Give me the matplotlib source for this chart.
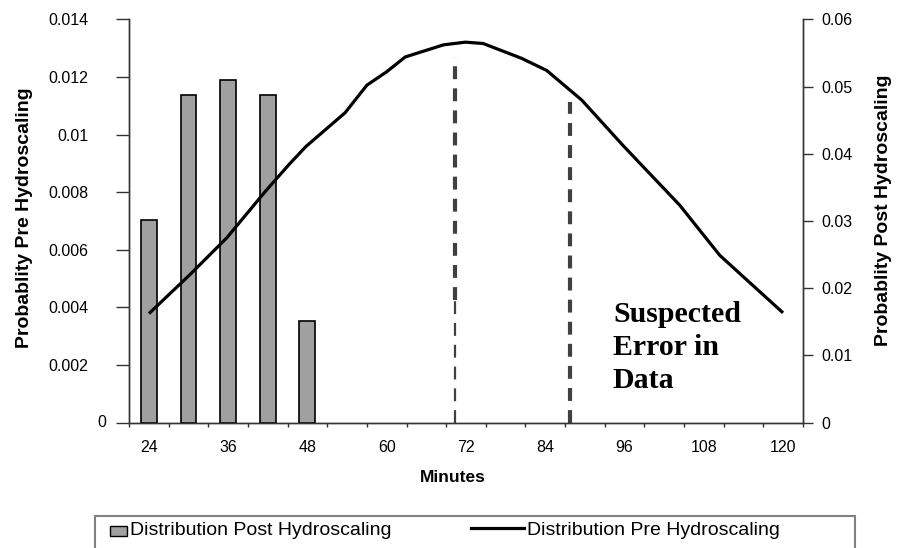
import matplotlib
matplotlib.use("Agg")
import matplotlib.pyplot as plt
import numpy as np
from matplotlib.patches import Rectangle, Patch
from matplotlib.lines import Line2D
from matplotlib.legend_handler import HandlerBase
from matplotlib.ticker import FixedLocator, FixedFormatter, NullFormatter
from matplotlib.transforms import blended_transform_factory

# ---------------- data ----------------
categories = [24, 30, 36, 42, 48, 54, 60, 66, 72, 78, 84, 90, 96, 102, 108, 114, 120]
x_tick_values = [24, 36, 48, 60, 72, 84, 96, 108, 120]
x_tick_labels = ["24", "36", "48", "60", "72", "84", "96", "108", "120"]

bar_minutes = [24, 30, 36, 42, 48]
bar_values = [0.00705, 0.01136, 0.01188, 0.01136, 0.00354]

line_minutes = [24.2, 30.2, 35.8, 41.8, 45.4, 47.8, 53.7, 57.0, 60.0, 62.8, 68.6,
                71.9, 74.6, 80.4, 84.2, 89.5, 95.7, 98.3, 104.3, 110.4, 114.2, 119.8]
line_values = [0.0164, 0.0220, 0.0275, 0.0346, 0.0386, 0.0411, 0.0461, 0.0502, 0.0522,
               0.0544, 0.0562, 0.0566, 0.0564, 0.0542, 0.0524, 0.0480, 0.0413, 0.0386,
               0.0324, 0.0249, 0.0215, 0.0165]

marker_minutes = [70.4, 87.7]
marker_tops = [0.01268, 0.01114]
marker_break = 0.00425  # first marker becomes thinner below this level

left_ticks = [0, 0.002, 0.004, 0.006, 0.008, 0.010, 0.012, 0.014]
left_tick_labels = ["0", "0.002", "0.004", "0.006", "0.008", "0.01", "0.012", "0.014"]
right_ticks = [0, 0.01, 0.02, 0.03, 0.04, 0.05, 0.06]
right_tick_labels = ["0", "0.01", "0.02", "0.03", "0.04", "0.05", "0.06"]

bar_label = "Distribution Post Hydroscaling"
line_label = "Distribution Pre Hydroscaling"
annotation = "Suspected\nError in\nData"

# ---------------- style ----------------
plt.rcParams["font.family"] = ["Liberation Sans", "DejaVu Sans"]
W, H = 903, 548
fig = plt.figure(figsize=(W / 100, H / 100), dpi=100)
ax = fig.add_axes([129 / W, 1 - 422.7 / H, 674 / W, 403.4 / H])

step = categories[1] - categories[0]
def pos(m):
    return (np.asarray(m, dtype=float) - categories[0]) / step

spine_col = "#333333"

ax.bar(pos(bar_minutes), bar_values, width=0.4, color="#A0A0A0",
       edgecolor="black", linewidth=1.2, zorder=2)
ax.set_xlim(-0.5, len(categories) - 0.5)
ax.set_ylim(left_ticks[0], left_ticks[-1])

# dashed markers
dash_col = "#404040"
for i, (m, top) in enumerate(zip(marker_minutes, marker_tops)):
    xp = float(pos(m))
    if i == 0:
        ax.plot([xp, xp], [marker_break, top], color=dash_col, lw=3.0,
                linestyle=(0, (3.1, 2.2)), zorder=3)
        ax.plot([xp, xp], [0, marker_break], color=dash_col, lw=1.6,
                linestyle=(0, (5.8, 4.0)), zorder=3)
    else:
        ax.plot([xp, xp], [0, top], color=dash_col, lw=3.0,
                linestyle=(0, (3.1, 2.2)), zorder=3)

ax.text(0.718, 0.302, annotation, transform=ax.transAxes, ha="left", va="top",
        fontfamily=["Liberation Serif", "DejaVu Serif"], fontweight="bold",
        fontsize=21.5, linespacing=1.3, zorder=5)

ax2 = ax.twinx()
ax2.plot(pos(line_minutes), line_values, color="black", lw=2.3, zorder=4)
ax2.set_ylim(right_ticks[0], right_ticks[-1])

for a in (ax, ax2):
    a.spines["top"].set_visible(False)
    for s in ("left", "right", "bottom"):
        a.spines[s].set_color(spine_col)
        a.spines[s].set_linewidth(1.0)

ax.set_yticks(left_ticks)
ax.set_yticklabels([""] + left_tick_labels[1:])
ax.tick_params(axis="y", direction="out", length=9.4, width=1, pad=20,
               labelsize=11.5, color=spine_col)
# the zero label sits a little further right in the original
ax.text(-0.0341, left_ticks[0], left_tick_labels[0],
        transform=blended_transform_factory(ax.transAxes, ax.transData),
        ha="right", va="center", fontsize=11.5, clip_on=False)

ax2.set_yticks(right_ticks)
ax2.set_yticklabels(right_tick_labels)
ax2.tick_params(axis="y", direction="out", length=7, width=1, pad=6.5,
                labelsize=11.5, color=spine_col)

ax.xaxis.set_major_locator(FixedLocator(np.arange(-0.5, len(categories) + 0.5)))
ax.xaxis.set_major_formatter(NullFormatter())
ax.xaxis.set_minor_locator(FixedLocator(pos(x_tick_values)))
ax.xaxis.set_minor_formatter(FixedFormatter(x_tick_labels))
ax.tick_params(axis="x", which="major", direction="out", length=3, width=1, color=spine_col)
ax.tick_params(axis="x", which="minor", length=0, pad=12.5, labelsize=11.5)

ax.set_xlabel("Minutes", fontsize=12.5, fontweight="bold")
ax.xaxis.set_label_coords(0.481, -0.118)
ax.set_ylabel("Probablity Pre Hydroscaling", fontsize=14, fontweight="bold")
ax.yaxis.set_label_coords(-0.1424, 0.507)
ax2.set_ylabel("Probablity Post Hydroscaling", fontsize=14, fontweight="bold")
ax2.yaxis.set_label_coords(1.107, 0.527)


class KeyPatchHandler(HandlerBase):
    def create_artists(self, legend, orig_handle, xdescent, ydescent, width, height,
                       fontsize, trans):
        w, h = 12.2, 7.2
        r = Rectangle((width - xdescent - w, (height - h) / 2 - ydescent - 2), w, h,
                      facecolor=orig_handle.get_facecolor(),
                      edgecolor=orig_handle.get_edgecolor(),
                      linewidth=orig_handle.get_linewidth(), transform=trans)
        return [r]


class LongLineHandler(HandlerBase):
    def create_artists(self, legend, orig_handle, xdescent, ydescent, width, height,
                       fontsize, trans):
        extra = 18.7
        y = height / 2 - ydescent
        l = Line2D([-xdescent - extra, width - xdescent], [y, y],
                   color=orig_handle.get_color(), linewidth=orig_handle.get_linewidth(),
                   transform=trans)
        return [l]


bar_handle = Patch(facecolor="#A0A0A0", edgecolor="black", linewidth=1.0)
line_handle = Line2D([], [], color="black", lw=2.3)
leg = ax2.legend([bar_handle, line_handle], [bar_label, line_label],
                 handler_map={Patch: KeyPatchHandler(), Line2D: LongLineHandler()},
                 loc="upper left", bbox_to_anchor=(95 / W, 1 - 516 / H),
                 bbox_transform=fig.transFigure, ncol=2, frameon=False,
                 fontsize=14, handlelength=1.4, handletextpad=0.15,
                 columnspacing=5.4, borderpad=0.26, borderaxespad=0)

frame = Rectangle((95 / W, -10 / H), (855 - 95) / W, (H + 10 - 516) / H,
                  transform=fig.transFigure, fill=False, edgecolor="#808080",
                  linewidth=1.5, clip_on=False)
fig.add_artist(frame)

fig.savefig("out.png", dpi=100)
